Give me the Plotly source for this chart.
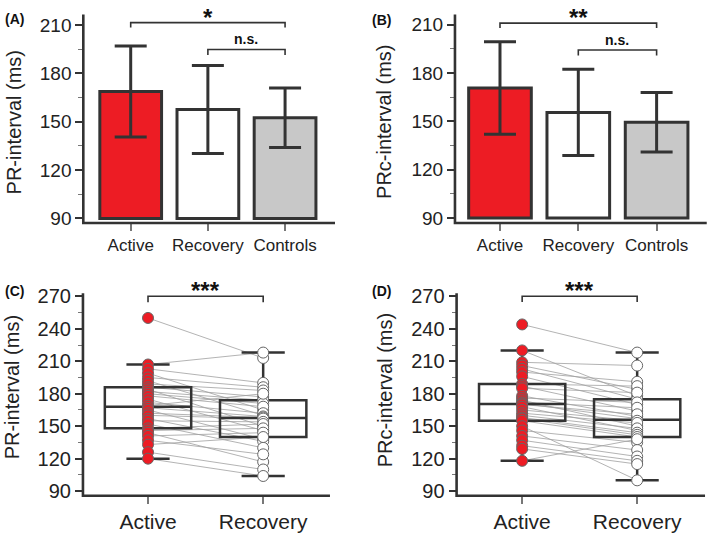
import plotly.graph_objects as go

# ---------------- data ----------------
groups3 = ["Active", "Recovery", "Controls"]
pr_mean = [168.7, 157.5, 152.4]
pr_sd = [28.2, 27.3, 18.5]
prc_mean = [170.8, 155.6, 149.5]
prc_sd = [28.7, 26.8, 18.5]
bar_colors = ["#ED1C24", "#FFFFFF", "#C8C8C8"]
bar_base = 90

groups2 = ["Active", "Recovery"]
pr_active = [250, 207, 203, 199, 195, 192, 189, 186, 184, 182, 180, 178, 175, 172, 169,
             167, 165, 162, 160, 157, 155, 152, 148, 146, 144, 141, 137, 133, 126, 120]
pr_recovery = [213, 218, 190, 165, 186, 160, 183, 177, 150, 174, 171, 168, 146, 162, 180,
               159, 138, 158, 157, 136, 154, 130, 152, 148, 117, 144, 124, 140, 110, 104]
prc_active = [244, 220, 209, 206, 203, 200, 196, 189, 187, 185, 178, 176, 174, 172, 171,
              170, 168, 165, 162, 160, 158, 157, 155, 150, 146, 141, 137, 132, 129, 118]
prc_recovery = [218, 178, 206, 184, 175, 191, 170, 187, 164, 181, 159, 172, 150, 167, 157,
                161, 146, 155, 153, 148, 144, 142, 140, 100, 135, 128, 122, 118, 115, 138]

# significance brackets: (x0, x1, y, leg_y, text, text_y, size)
brackets_A = [(0, 2, 211.4, 208.4, "*", 214.6, 24), (1, 2, 194.7, 191.3, "n.s.", 201.2, 14)]
brackets_B = [(0, 2, 211.0, 208.0, "**", 214.3, 24), (1, 2, 194.3, 190.9, "n.s.", 200.8, 14)]
brackets_C = [(0, 1, 270.0, 264.6, "***", 275.0, 24)]
brackets_D = [(0, 1, 270.0, 264.8, "***", 275.0, 24)]

FONT = "Liberation Sans, Arial, sans-serif"
DARK = "#333333"

fig = go.Figure()

# ---------------- bar panels ----------------
for means, sds, ax in [(pr_mean, pr_sd, ("x", "y")), (prc_mean, prc_sd, ("x2", "y2"))]:
    fig.add_trace(go.Bar(
        x=list(range(len(groups3))), y=[m - bar_base for m in means], base=bar_base,
        width=0.8, marker=dict(color=bar_colors, line=dict(color=DARK, width=3)),
        error_y=dict(type="data", array=sds, color=DARK, thickness=3, width=16),
        xaxis=ax[0], yaxis=ax[1], showlegend=False))

# ---------------- box + paired panels ----------------
for act, rec, ax in [(pr_active, pr_recovery, ("x3", "y3")), (prc_active, prc_recovery, ("x4", "y4"))]:
    lx, ly = [], []
    for a, r in zip(act, rec):
        lx += [0, 1, None]
        ly += [a, r, None]
    fig.add_trace(go.Scatter(x=lx, y=ly, mode="lines", line=dict(color="#A0A0A0", width=0.8),
                             xaxis=ax[0], yaxis=ax[1], showlegend=False, hoverinfo="skip", zorder=-1))
    for i, vals in enumerate([act, rec]):
        fig.add_trace(go.Box(
            x=[i] * len(vals), y=vals, width=0.75, whiskerwidth=0.5,
            line=dict(color=DARK, width=2.5), fillcolor="rgba(0,0,0,0)",
            boxpoints="outliers", marker=dict(opacity=0, size=1),
            xaxis=ax[0], yaxis=ax[1], showlegend=False))
    fig.add_trace(go.Scatter(x=[0] * len(act), y=act, mode="markers",
                             marker=dict(color="#ED1C24", size=11, line=dict(color="#666666", width=1)),
                             xaxis=ax[0], yaxis=ax[1], showlegend=False))
    fig.add_trace(go.Scatter(x=[1] * len(rec), y=rec, mode="markers",
                             marker=dict(color="#FFFFFF", size=11, line=dict(color="#666666", width=1)),
                             xaxis=ax[0], yaxis=ax[1], showlegend=False))

# ---------------- axes ----------------
def yax(domain, rng, dtick, tick0, minor_dtick, size):
    return dict(domain=domain, range=rng, tickmode="linear", tick0=tick0, dtick=dtick,
                showline=False, ticks="outside", ticklen=7,
                tickwidth=1.5, tickcolor=DARK, showgrid=False, zeroline=False,
                minor=dict(ticks="outside", ticklen=4, tickwidth=1, tickcolor="#777777",
                           dtick=minor_dtick, tick0=tick0, showgrid=False),
                tickfont=dict(family=FONT, size=size, color="#222222"))

def xax(domain, rng, labels, anchor, size):
    return dict(domain=domain, range=rng, anchor=anchor, tickmode="array",
                tickvals=list(range(len(labels))), ticktext=labels,
                showline=False, ticks="outside", ticklen=7,
                tickwidth=1.5, tickcolor="#777777", showgrid=False, zeroline=False,
                tickfont=dict(family=FONT, size=size, color="#222222"))

yA = [0.5898, 0.9875]
yC = [0.0693, 0.4554]
ranges = {"y": [87.2, 216.4], "y2": [87.0, 216.3], "y3": [85.8, 272.7], "y4": [85.8, 272.7]}
fig.update_layout(
    xaxis=xax([0.1175, 0.4725], [-0.614, 2.647], groups3, "y", 17),
    yaxis=dict(anchor="x", **yax(yA, ranges["y"], 30, 90, 15, 19)),
    xaxis2=xax([0.6417, 0.9968], [-0.575, 2.64], groups3, "y2", 17),
    yaxis2=dict(anchor="x2", **yax(yA, ranges["y2"], 30, 90, 15, 19)),
    xaxis3=xax([0.117, 0.4654], [-0.565, 1.58], groups2, "y3", 21),
    yaxis3=dict(anchor="x3", **yax(yC, ranges["y3"], 30, 90, 15, 20)),
    xaxis4=xax([0.644, 0.9944], [-0.57, 1.59], groups2, "y4", 21),
    yaxis4=dict(anchor="x4", **yax(yC, ranges["y4"], 30, 90, 15, 20)),
    width=709, height=538, margin=dict(l=0, r=0, t=0, b=0),
    paper_bgcolor="white", plot_bgcolor="white", showlegend=False,
    font=dict(family=FONT, color="#222222"),
)

shapes, annots = [], []
for xr, yr in [("x", "y"), ("x2", "y2"), ("x3", "y3"), ("x4", "y4")]:
    # L-shaped axis frame (left + bottom)
    shapes.append(dict(type="path", xref=f"{xr} domain", yref=f"{yr} domain",
                       path="M 0,1 L 0,0 L 1,0", layer="above",
                       line=dict(color=DARK, width=2.6)))

for brs, xr, yr in [(brackets_A, "x", "y"), (brackets_B, "x2", "y2"),
                    (brackets_C, "x3", "y3"), (brackets_D, "x4", "y4")]:
    r0, r1 = ranges[yr]
    for x0, x1, y, yl, txt, ty, sz in brs:
        shapes.append(dict(type="path", xref=xr, yref=yr,
                           path=f"M {x0},{yl} L {x0},{y} L {x1},{y} L {x1},{yl}",
                           line=dict(color=DARK, width=1.6)))
        annots.append(dict(x=(x0 + x1) / 2, y=(ty - r0) / (r1 - r0), xref=xr, yref=f"{yr} domain",
                           text=f"<b>{txt}</b>", showarrow=False, yanchor="middle",
                           font=dict(family=FONT, size=sz, color="#111111")))

# panel letters
for lab, px, py in [("(A)", 14, 11), ("(B)", 381, 12), ("(C)", 14, 291), ("(D)", 381, 291)]:
    annots.append(dict(x=px / 709, y=1 - py / 538, xref="paper", yref="paper",
                       text=f"<b>{lab}</b>", showarrow=False, xanchor="center", yanchor="middle",
                       font=dict(family=FONT, size=14, color="#111111")))

# y titles
for lab, px, py in [("PR-interval (ms)", 13.5, 118), ("PRc-interval (ms)", 384, 117),
                    ("PR-interval (ms)", 11.5, 390), ("PRc-interval (ms)", 384.5, 393)]:
    annots.append(dict(x=px / 709, y=1 - py / 538, xref="paper", yref="paper", text=lab,
                       textangle=-90, showarrow=False, xanchor="center", yanchor="middle",
                       font=dict(family=FONT, size=20, color="#222222")))

fig.update_layout(shapes=shapes, annotations=annots)
fig.write_html("out.html", config={"displayModeBar": False},
               post_script="document.body.style.margin='0px';")
